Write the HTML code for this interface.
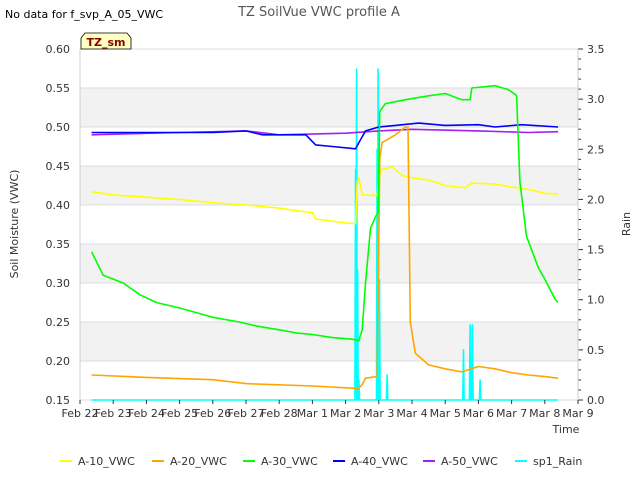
<!DOCTYPE html>
<html><head><meta charset="utf-8"><style>
body{margin:0;background:#fff;font-family:"Liberation Sans","DejaVu Sans",sans-serif}
svg text{font-family:"DejaVu Sans","Liberation Sans",sans-serif}
</style></head><body>
<svg id="c" width="640" height="480" xmlns="http://www.w3.org/2000/svg">
<text x="5" y="18" font-size="11" fill="#000">No data for f_svp_A_05_VWC</text>
<text x="319" y="16" font-size="13" fill="#555" text-anchor="middle">TZ SoilVue VWC profile A</text>
<g id="bands"></g><g id="grid"></g><g id="series"></g><g id="axes"></g>
<g>
<path d="M81,49 L81,38 L85,33 L127,33 L131,38 L131,49 Z" fill="#ffffc0" stroke="#000" stroke-width="0.8"/>
<text x="106" y="46" font-size="11" font-weight="bold" fill="#8b0000" text-anchor="middle">TZ_sm</text></g>
<text x="18" y="224" font-size="11" fill="#333" text-anchor="middle" transform="rotate(-90 18 224)">Soil Moisture (VWC)</text>
<text x="630" y="224" font-size="11" fill="#333" text-anchor="middle" transform="rotate(-90 630 224)">Rain</text>
<text x="566" y="433" font-size="11" fill="#333" text-anchor="middle">Time</text>
<g id="legend"></g>
</svg>
<script>
const xLabels=["Feb 22","Feb 23","Feb 24","Feb 25","Feb 26","Feb 27","Feb 28","Mar 1","Mar 2","Mar 3","Mar 4","Mar 5","Mar 6","Mar 7","Mar 8","Mar 9"];
const yTicks=[0.15,0.20,0.25,0.30,0.35,0.40,0.45,0.50,0.55,0.60];
const y2Ticks=[0,0.5,1,1.5,2,2.5,3,3.5];
const a10D=[0.35,1,2,3,4,5,6,7,7.1,8,8.3,8.35,8.4,8.5,8.95,9.05,9.4,9.7,10,10.5,11,11.6,11.8,12.5,13,13.5,14,14.4];
const a10V=[0.417,0.413,0.41,0.407,0.403,0.4,0.396,0.39,0.382,0.377,0.376,0.43,0.435,0.413,0.412,0.445,0.449,0.438,0.435,0.432,0.425,0.422,0.428,0.427,0.423,0.42,0.415,0.414];
const a20D=[0.35,2,4,5,7,8.3,8.35,8.5,8.6,8.95,9.03,9.1,9.5,9.8,9.88,9.95,10.1,10.5,11,11.5,12,12.5,13,13.5,14,14.4];
const a20V=[0.182,0.179,0.176,0.171,0.168,0.165,0.163,0.17,0.178,0.18,0.46,0.48,0.49,0.5,0.5,0.25,0.21,0.195,0.19,0.186,0.193,0.19,0.185,0.182,0.18,0.178];
const a30D=[0.35,0.7,1.3,1.8,2.3,3,3.5,4,4.8,5.3,6,6.5,7,7.6,8.2,8.4,8.5,8.6,8.75,8.9,8.98,9.03,9.2,9.8,10.5,11,11.5,11.75,11.8,12.5,12.9,13.1,13.15,13.25,13.45,13.8,14,14.3,14.4];
const a30V=[0.34,0.31,0.3,0.285,0.275,0.268,0.262,0.256,0.25,0.245,0.24,0.236,0.234,0.23,0.228,0.226,0.24,0.3,0.37,0.385,0.39,0.52,0.53,0.535,0.54,0.543,0.535,0.535,0.55,0.553,0.548,0.542,0.54,0.43,0.36,0.32,0.305,0.28,0.275];
const a40D=[0.35,4,5,5.5,6.8,7.1,7.6,8.3,8.4,8.6,9,9.5,10.2,11,12,12.5,13.3,14.4];
const a40V=[0.493,0.493,0.495,0.49,0.49,0.477,0.475,0.472,0.48,0.495,0.5,0.502,0.505,0.502,0.503,0.5,0.503,0.5];
const a50D=[0.35,3,5,6,8,9,10,12,13.5,14.4];
const a50V=[0.49,0.493,0.495,0.49,0.492,0.495,0.497,0.495,0.493,0.494];
const rainD=[8.3,8.33,8.36,8.4,8.95,8.98,9.02,9.25,11.55,11.75,11.82,12.05];
const rainV=[2.3,3.3,1.3,0.2,2.5,3.3,1.2,0.25,0.5,0.75,0.75,0.2];
const X0=80,X1=578,Y0=400,Y1=49;
const xs=d=>X0+d*(X1-X0)/15;
const ys=v=>Y0-(v-0.15)/0.45*(Y0-Y1);
const y2s=v=>Y0-v/3.5*(Y0-Y1);
const NS="http://www.w3.org/2000/svg";
function mk(t,p,a){const e=document.createElementNS(NS,t);for(const k in a)e.setAttribute(k,a[k]);p.appendChild(e);return e;}
const bands=document.getElementById('bands'),grid=document.getElementById('grid'),ser=document.getElementById('series'),axes=document.getElementById('axes'),leg=document.getElementById('legend');
mk('rect',bands,{x:X0,y:Y1,width:X1-X0,height:Y0-Y1,fill:'#fff'});
[[0.20,0.25],[0.30,0.35],[0.40,0.45],[0.50,0.55]].forEach(b=>{const r=mk('rect',bands,{x:X0,y:ys(b[1]),width:X1-X0,height:ys(b[0])-ys(b[1]),fill:'#f2f2f2'});

});
yTicks.forEach(v=>{mk('line',grid,{x1:X0,x2:X1,y1:ys(v),y2:ys(v),stroke:'#dcdcdc','stroke-width':1});
const t=mk('text',axes,{x:X0-10,y:ys(v)+4,'font-size':11,fill:'#333','text-anchor':'end'});t.textContent=v.toFixed(2);

});
y2Ticks.forEach(v=>{mk('line',axes,{x1:X1,x2:X1+5,y1:y2s(v),y2:y2s(v),stroke:'#333'});
const t=mk('text',axes,{x:X1+9,y:y2s(v)+4,'font-size':11,fill:'#333'});t.textContent=v.toFixed(1);

});
for(let v=0.1;v<3.5;v+=0.1){if(Math.abs(v*2-Math.round(v*2))>0.01)mk('line',axes,{x1:X1,x2:X1+3,y1:y2s(v),y2:y2s(v),stroke:'#333'});}
mk('line',axes,{x1:X1,x2:X1,y1:Y1,y2:Y0,stroke:'#ccc'});
mk('line',axes,{x1:X0,x2:X0,y1:Y1,y2:Y0,stroke:'#ccc'});
xLabels.forEach((l,i)=>{mk('line',axes,{x1:xs(i),x2:xs(i),y1:Y0,y2:Y0+4,stroke:'#333'});
const t=mk('text',axes,{x:xs(i),y:Y0+17,'font-size':11,fill:'#333','text-anchor':'middle'});t.textContent=l;

});
function line(D,V,col,name,f){const pts=D.map((d,i)=>xs(d).toFixed(1)+','+f(V[i]).toFixed(1)).join(' ');
const p=mk('polyline',ser,{points:pts,fill:'none',stroke:col,'stroke-width':1.6,'stroke-linejoin':'round'});

}
// rain: baseline with spikes
const rd=[0.35],rv=[0];rainD.forEach((d,i)=>{rd.push(d-0.02,d,d+0.02);rv.push(0,rainV[i],0);});rd.push(14.4);rv.push(0);
line(rd,rv,'#00ffff','series-sp1-rain',y2s);
line(a50D,a50V,'#a020f0','series-a50-vwc',ys);
line(a40D,a40V,'#0000ff','series-a40-vwc',ys);
line(a10D,a10V,'#ffff00','series-a10-vwc',ys);
line(a20D,a20V,'#ffa500','series-a20-vwc',ys);
line(a30D,a30V,'#00ff00','series-a30-vwc',ys);
const legItems=[["A-10_VWC","#ffff00",60],["A-20_VWC","#ffa500",152],["A-30_VWC","#00ff00",243],["A-40_VWC","#0000ff",333],["A-50_VWC","#a020f0",423],["sp1_Rain","#00ffff",515]];
legItems.forEach(it=>{const g=mk('g',leg,{});


mk('line',g,{x1:it[2],x2:it[2]+12,y1:461,y2:461,stroke:it[1],'stroke-width':2});
const t=mk('text',g,{x:it[2]+18,y:465,'font-size':11,fill:'#333'});t.textContent=it[0];});
</script>
</body></html>
